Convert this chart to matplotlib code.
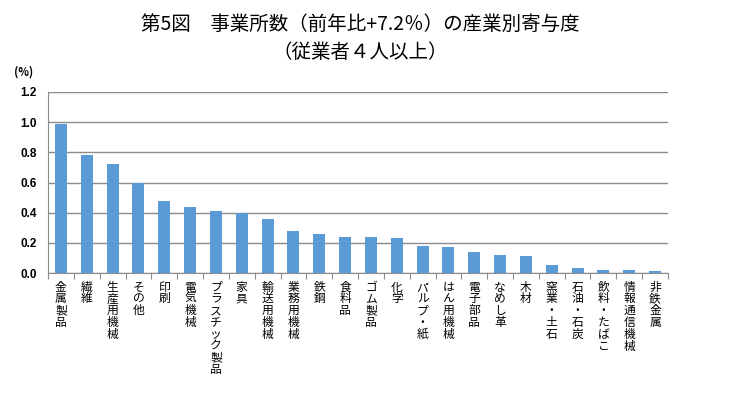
import numpy as np
import matplotlib
matplotlib.use("Agg")
import matplotlib.pyplot as plt

plt.rcParams['font.family'] = ['Noto Sans CJK JP', 'DejaVu Sans']

# 産業別寄与度 (%)
industries = ['金属製品', '繊維', '生産用機械', 'その他', '印刷', '電気機械',
              'プラスチック製品', '家具', '輸送用機械', '業務用機械', '鉄鋼', '食料品',
              'ゴム製品', '化学', 'パルプ・紙', 'はん用機械', '電子部品', 'なめし革',
              '木材', '窯業・土石', '石油・石炭', '飲料・たばこ', '情報通信機械', '非鉄金属']
contrib = [0.99, 0.78, 0.72, 0.60, 0.48, 0.44, 0.41, 0.40, 0.36, 0.28, 0.26, 0.24,
           0.24, 0.23, 0.18, 0.17, 0.14, 0.12, 0.11, 0.05, 0.03, 0.02, 0.02, 0.01]
yticks = [0.0, 0.2, 0.4, 0.6, 0.8, 1.0, 1.2]

fig = plt.figure(figsize=(7.55, 3.98), dpi=100)
ax = fig.add_axes([48/755, 1-273/398, 620/755, 181/398])

x = np.arange(len(industries))
ax.bar(x, contrib, width=0.46, color='#5B9BD5', zorder=3)

ax.set_xlim(-0.5, len(industries)-0.5)
ax.set_ylim(0, 1.2)
ax.set_yticks(yticks)
ax.set_yticklabels(['%.1f' % v for v in yticks], fontsize=8.5, fontweight='bold',
                   family='Liberation Sans')
ax.yaxis.grid(True, color='#8c8c8c', linewidth=1, zorder=0)
ax.tick_params(axis='y', length=0, pad=8)

# ticks between categories
ax.set_xticks(np.arange(-0.5, len(industries)), minor=False)
ax.set_xticklabels([])
ax.tick_params(axis='x', direction='out', length=4, color='#8c8c8c')

for sp in ['top', 'right']:
    ax.spines[sp].set_visible(False)
ax.spines['left'].set_color('#8c8c8c')
ax.spines['bottom'].set_color('#8c8c8c')

# vertical labels, one character per line
for xi, name in zip(x, industries):
    ax.text(xi, -0.05, '\n'.join(name), ha='center', va='top', fontsize=8.5,
            linespacing=0.88, transform=ax.transData)

fig.text(0.477, 1-24/398, '第5図　事業所数（前年比+7.2％）の産業別寄与度', ha='center',
         va='center', fontsize=14)
fig.text(0.477, 1-52/398, '（従業者４人以上）', ha='center', va='center', fontsize=14)
fig.text(24/755, 1-72/398, '(%)', ha='center', va='center', fontsize=8, fontweight='bold')

fig.savefig('out.png', dpi=100)
